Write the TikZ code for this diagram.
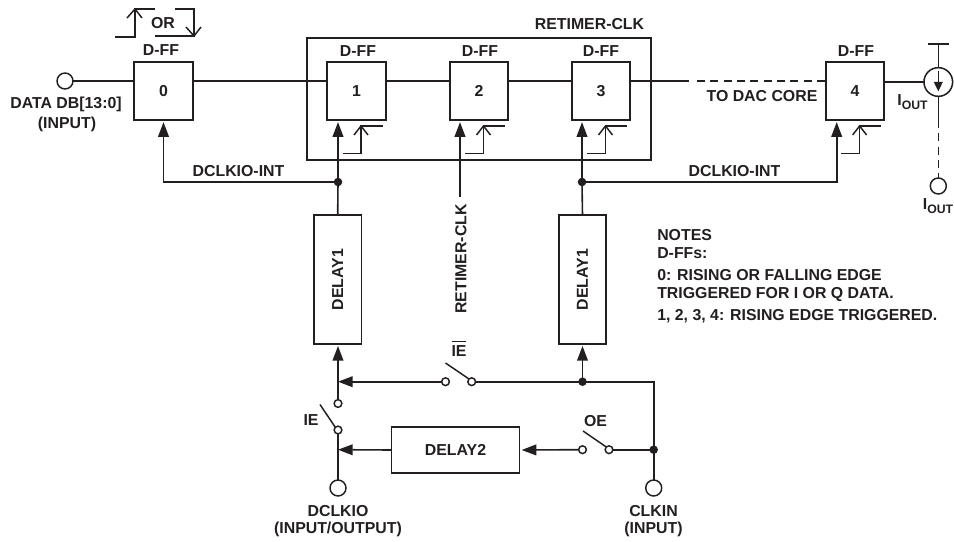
\documentclass[tikz,border=0pt]{standalone}
\usepackage{fontspec}
\setmainfont{Liberation Sans}
\usetikzlibrary{arrows.meta,calc}
\definecolor{ink}{HTML}{231F20}
\newcommand{\iout}{I\raisebox{-3.5pt}{\fontsize{9.2}{10}\selectfont\bfseries OUT}}
\tikzset{
  wire/.style={line width=1.2pt,color=ink},
  sig/.style={wire,-{Triangle[length=11pt,width=8pt]},shorten >=1.6pt},
  tee/.style={wire,-{Triangle[length=11pt,width=8pt]}},
  dashwire/.style={wire,dash pattern=on 6pt off 4pt},
  thinwire/.style={line width=1.1pt,color=ink},
  boxbase/.style={draw=ink,line width=1.3pt,fill=white,outer sep=0pt,inner sep=0pt,text=ink,font=\fontsize{11.9}{14}\selectfont\bfseries},
  ffbox/.style={boxbase,minimum width=44pt,minimum height=43.5pt},
  dlyv/.style={boxbase,minimum width=35.5pt,minimum height=96.5pt},
  dlyh/.style={boxbase,minimum width=96pt,minimum height=34.5pt},
  outerbox/.style={draw=ink,line width=1.2pt,outer sep=0pt,inner sep=0pt,minimum width=258pt,minimum height=91.5pt},
  lbl/.style={text=ink,inner sep=0pt,font=\fontsize{11.9}{14}\selectfont\bfseries},
  term/.style={circle,draw=ink,line width=1.1pt,fill=white,minimum size=12pt,inner sep=0pt,outer sep=0pt},
  swpt/.style={circle,draw=ink,line width=1.1pt,fill=white,minimum size=5.8pt,inner sep=0pt,outer sep=0pt},
  junc/.style={circle,fill=ink,minimum size=6.4pt,inner sep=0pt,outer sep=0pt},
  src/.style={circle,draw=ink,line width=1.15pt,fill=white,minimum size=21.5pt,inner sep=0pt,outer sep=0pt},
}
\begin{document}
\begin{tikzpicture}[x=0.75pt,y=-0.75pt]
\useasboundingbox (0,0) rectangle (954,542);
% boxes
\node[outerbox] (retimer) at (479,99) {};
\node[ffbox] (b0) at (163.5,91) {0};
\node[ffbox] (b1) at (356.5,91) {1};
\node[ffbox] (b2) at (479,91) {2};
\node[ffbox] (b3) at (601,91) {3};
\node[ffbox] (b4) at (855,91) {4};
\node[dlyv] (d1) at (337.7,279.5) {\rotatebox{90}{DELAY1}};
\node[dlyv] (d3) at (582.5,279.5) {\rotatebox{90}{DELAY1}};
\node[dlyh] (d2) at (455.5,450) {DELAY2};
% terminals
\node[term] (datain) at (65,81) {};
\node[term] (dclkio) at (338,488) {};
\node[term] (clkin) at (653.7,488) {};
\node[term] (ioutpin) at (938.3,186) {};
\node[src] (source) at (938.3,82) {};
% switches
\node[swpt] (sa) at (445.5,381.7) {};
\node[swpt] (sb) at (471.7,381.7) {};
\node[swpt] (oa) at (582.5,449.7) {};
\node[swpt] (ob) at (609,449.7) {};
\node[swpt] (ia) at (338,403.5) {};
\node[swpt] (ib) at (338,430) {};
\coordinate (saarm) at (445.5,363);
\coordinate (oaarm) at (583,431);
\coordinate (iaarm) at (320,404.5);
% junctions
\node[junc] (j1) at (338,182) {};
\node[junc] (j3) at (582,182) {};
\node[junc] (j4) at (582.5,381.7) {};
\node[junc] (j5) at (653.7,449.7) {};
\coordinate (t1) at (338,381.7);
\coordinate (t2) at (338,449.7);
\coordinate (corner) at (653.7,381.7);
\coordinate (iso) at (689,81);
\coordinate (ido) at (697,81);
\coordinate (retend) at (460,197);
\coordinate (clk4) at (836.7,182);
\coordinate (bartop) at (938.3,44);
\coordinate (barl) at (927.7,44);
\coordinate (barr) at (948.5,44);
\coordinate (srcsolid) at (938.3,120);
% data path
\draw[wire] (datain.east) -- (datain -| b0.west);
\draw[wire] (b0.east |- datain) -- (datain -| b1.west);
\draw[wire] (b1.east |- datain) -- (datain -| b2.west);
\draw[wire] (b2.east |- datain) -- (datain -| b3.west);
\draw[wire] (b3.east |- datain) -- (iso);
\draw[dashwire] (ido) -- (datain -| b4.west);
\draw[wire] (b4.east |- source) -- (source.west);
% clocks
\draw[sig] (j1.center) -| (b0.south);
\draw[sig] (j1.center) -- (j1 |- b1.south);
\draw[sig] (retend) -- (retend |- b2.south);
\draw[sig] (j3.center) -- (j3 |- b3.south);
\draw[sig] (j3.center) -- (clk4) -- (clk4 |- b4.south);
\draw[wire] (d1.north) -- (j1.center);
\draw[wire] (d3.north) -- (j3.center);
% lower network
\draw[sig] (ia.north) -- (ia |- d1.south);
\draw[tee] (sa.west) -- (t1);
\draw[sig] (j4.center) -- (j4 |- d3.south);
\draw[wire] (sb.east) -- (j4.center) -- (corner) -- (clkin.north);
\draw[wire] (j5.center) -- (ob.east);
\draw[sig] (oa.west) -- (d2.east);
\draw[tee] (d2.west) -- (t2);
\draw[wire] (ib.south) -- (dclkio.north);
% switch arms
\draw[thinwire] (saarm) -- (sb.north west);
\draw[thinwire] (oaarm) -- (ob.north west);
\draw[thinwire] (iaarm) -- (ib.north west);
% output source
\draw[wire] (barl) -- (barr);
\draw[wire] (bartop) -- (source.north);
\draw[wire] (source.south) -- (srcsolid);
\draw[dashwire] (srcsolid) -- (ioutpin.north);
\draw[line width=1.1pt,color=ink,-{Triangle[length=7pt,width=6.5pt]}] (source.north) ++(0,3) -- ($(source.south)+(0,-5)$);
% edge symbols
\foreach \x in {327,449.5,571.5,825.6}{
  \draw[thinwire] (\x+15.7,153.5) -- (\x+34,153.5) -- (\x+34,126) -- (\x+55.5,126);
  \draw[thinwire] (\x+27,135) -- (\x+34,126) -- (\x+41,135);
}
\draw[thinwire] (115,37) -- (135,37) -- (135,9) -- (155,9);
\draw[thinwire] (127,18) -- (135,9) -- (142,18);
\draw[thinwire] (175,9) -- (194,9) -- (194,36) -- (155,36);
\draw[thinwire] (186,27) -- (194,36) -- (201,27);
% labels
\node[lbl] (lor) at (163,23) {OR};
\node[lbl] (l0) at (161,50) {D-FF};
\node[lbl] (l1) at (358,51) {D-FF};
\node[lbl] (l2) at (480,51) {D-FF};
\node[lbl] (l3) at (601,51) {D-FF};
\node[lbl] (l4) at (856,51) {D-FF};
\node[lbl] (lret) at (589.5,24) {RETIMER-CLK};
\node[lbl] (ldata) at (66,104.5) {DATA DB[13:0]};
\node[lbl] (ldatb) at (67,124) {(INPUT)};
\node[lbl] (lint1) at (238.5,171) {DCLKIO-INT};
\node[lbl] (lint2) at (734.5,171) {DCLKIO-INT};
\node[lbl] (ltodac) at (762,96.5) {TO DAC CORE};
\node[lbl,rotate=90] (lretv) at (461,259) {RETIMER-CLK};
\node[lbl] (lieb) at (459,348) {$\overline{\mbox{\rule{0pt}{10pt}IE}}$};
\node[lbl] (lie) at (311,420) {IE};
\node[lbl] (loe) at (595.5,421) {OE};
\node[lbl] (lclk) at (338,511.5) {DCLKIO};
\node[lbl] (lclkb) at (338,529.5) {(INPUT/OUTPUT)};
\node[lbl] (lkin) at (653.5,511.5) {CLKIN};
\node[lbl] (lkinb) at (653.5,529.5) {(INPUT)};
\node[lbl] (lio1) at (912.5,102) {\iout};
\node[lbl] (lio2) at (938,206) {\iout};
\node[lbl,anchor=base west] (n1) at (657,240) {NOTES};
\node[lbl,anchor=base west] (n2) at (657,258.5) {D-FFs:};
\node[lbl,anchor=base west] (n3) at (657,280) {0: RISING OR FALLING EDGE};
\node[lbl,anchor=base west] (n4) at (657,298) {TRIGGERED FOR I OR Q DATA.};
\node[lbl,anchor=base west] (n5) at (657,320) {1, 2, 3, 4: RISING EDGE TRIGGERED.};
\end{tikzpicture}
\end{document}
